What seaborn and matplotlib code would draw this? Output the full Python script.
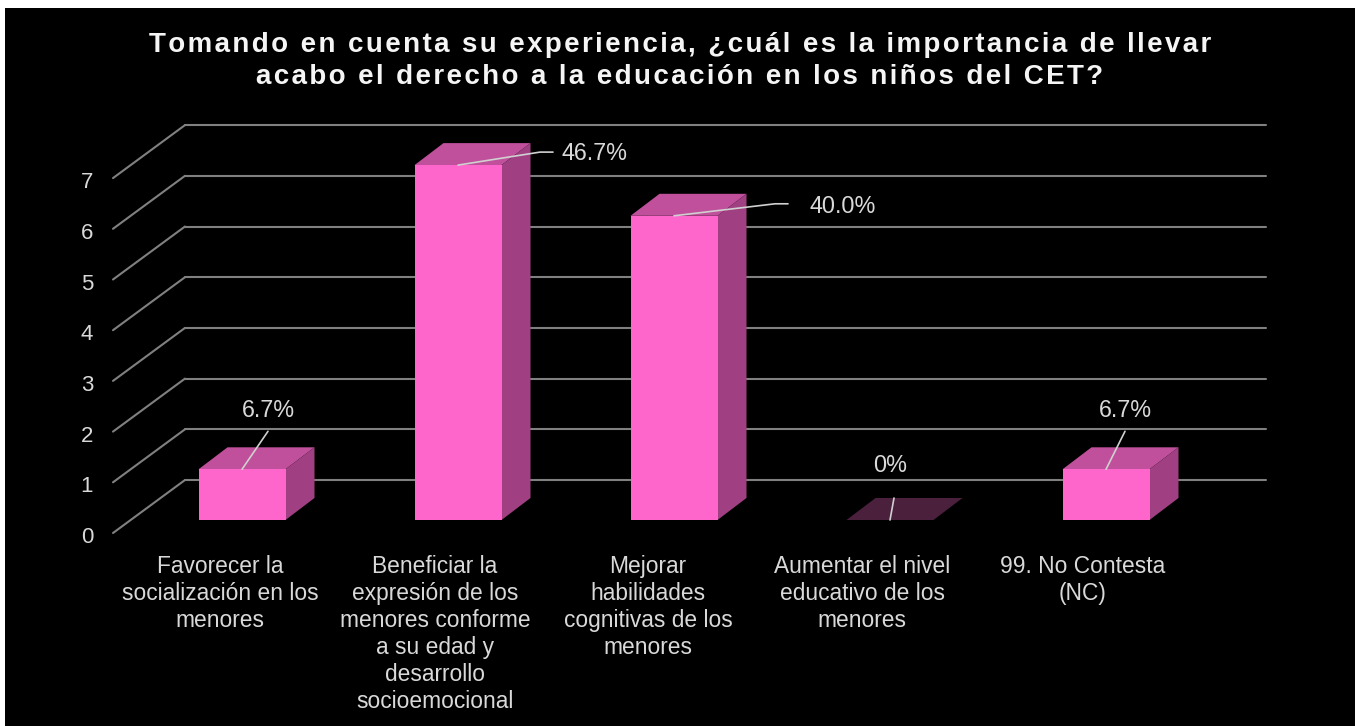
import seaborn as sns
import matplotlib
matplotlib.use("Agg")
import matplotlib.pyplot as plt
from matplotlib.patches import Polygon, Rectangle
from matplotlib.transforms import ScaledTranslation
import pandas as pd

categorias = ["Favorecer la\nsocialización en los\nmenores",
              "Beneficiar la\nexpresión de los\nmenores conforme\na su edad y\ndesarrollo\nsocioemocional",
              "Mejorar\nhabilidades\ncognitivas de los\nmenores",
              "Aumentar el nivel\neducativo de los\nmenores",
              "99. No Contesta\n(NC)"]
valores = [1, 7, 6, 0, 1]
porcentajes = ["6.7%", "46.7%", "40.0%", "0%", "6.7%"]
titulo = "Tomando en cuenta su experiencia, ¿cuál es la importancia de llevar\nacabo el derecho a la educación en los niños del CET?"

# pixel scale of the picture
W, H = 1360, 726
PX_X = 216.0    # px per category
PX_Y = 50.7     # px per unit
X0, Y0 = 242, 520   # px of first category, value 0
AX_L, AX_R, AX_T = 100, 1290, 100

ROSA = "#FF66CC"
TAPA = "#C0509B"
LADO = "#A04082"
GRIS = "#808080"
TEXTO = "#D9D9D9"

sns.set_theme(style="white", rc={"axes.facecolor": "none"})
plt.rcParams["font.family"] = ["Liberation Sans", "DejaVu Sans"]

fig = plt.figure(figsize=(W / 100, H / 100), dpi=100, facecolor="white")
fig.add_artist(Rectangle((5 / W, 0), (W - 10) / W, (H - 8) / H, transform=fig.transFigure,
                         facecolor="black", edgecolor="none", zorder=-5))
ax = fig.add_axes([AX_L / W, (H - Y0) / H, (AX_R - AX_L) / W, (Y0 - AX_T) / H])

df = pd.DataFrame({"categoria": categorias, "valor": valores})
sns.barplot(data=df, x="categoria", y="valor", color=ROSA, saturation=1, width=87 / PX_X,
            edgecolor="none", linewidth=0, ax=ax, zorder=3)
ax.set_xlim((AX_L - X0) / PX_X, (AX_R - X0) / PX_X)
ax.set_ylim(0, (Y0 - AX_T) / PX_Y)
ax.set_xlabel("")
ax.set_ylabel("")
sns.despine(ax=ax, left=True, bottom=True)
ax.set_yticks(range(8))


def dx(px):
    return px / PX_X


def dy(px):
    return px / PX_Y


# back wall and side wall lines
for v in range(8):
    ax.plot([(185 - X0) / PX_X, (1266 - X0) / PX_X], [v + dy(40)] * 2, color=GRIS, lw=1.5, zorder=1, clip_on=False)
    ax.plot([(113 - X0) / PX_X, (185 - X0) / PX_X], [v + dy(-13), v + dy(40)], color=GRIS, lw=1.5, zorder=1, clip_on=False)

# 3d faces of the bars
for bar in list(ax.patches):
    x, w, h = bar.get_x(), bar.get_width(), bar.get_height()
    ddx, ddy = dx(29), dy(22)
    tapa = TAPA if h > 0 else "#4A203D"
    ax.add_patch(Polygon([(x, h), (x + w, h), (x + w + ddx, h + ddy), (x + ddx, h + ddy)],
                         facecolor=tapa, edgecolor="none", zorder=2, clip_on=False))
    if h > 0:
        ax.add_patch(Polygon([(x + w, 0), (x + w + ddx, ddy), (x + w + ddx, h + ddy), (x + w, h)],
                             facecolor=LADO, edgecolor="none", zorder=2, clip_on=False))

# data labels with leader lines (offsets in px from the bar top)
texto_pos = [(26, 59, "center"), (104, 12, "left"), (135, 9, "left"), (0, 55, "center"), (19, 59, "center")]
guia = [[(26, 38)], [(82, 13), (95, 13)], [(101, 12), (114, 12)], [(4, 22)], [(19, 38)]]
for i, (val, etiqueta) in enumerate(zip(valores, porcentajes)):
    tx, ty, ha = texto_pos[i]
    ax.annotate(etiqueta, xy=(i, val), xytext=(tx, ty), textcoords="offset pixels",
                color=TEXTO, fontsize=16.8, ha=ha, va="center", annotation_clip=False, zorder=6)
    xs = [i] + [i + dx(p[0]) for p in guia[i]]
    ys = [val] + [val + dy(p[1]) for p in guia[i]]
    ax.plot(xs, ys, color="#D0D0D0", lw=1.2, zorder=5, clip_on=False)

ax.tick_params(axis="x", length=0, pad=25, labelsize=16.4, labelcolor=TEXTO)
ax.tick_params(axis="y", length=0, pad=5, labelsize=16, labelcolor=TEXTO)
# category labels sit to the left of their bars
ajuste = [-22, -23, -26, -28, -23]
for lab, aj in zip(ax.get_xticklabels(), ajuste):
    lab.set_linespacing(1.225)
    lab.set_va("top")
    lab.set_transform(lab.get_transform() + ScaledTranslation(aj / 100, 0, fig.dpi_scale_trans))
for lab in ax.get_yticklabels():
    lab.set_transform(lab.get_transform() + ScaledTranslation(0, -15 / 100, fig.dpi_scale_trans))

# title with letter spacing
espaciado = "\u200a".join(titulo).replace("\u200a\n\u200a", "\n")
fig.text(680 / W, 1 - 61 / H, espaciado, color="#F5F5F5", fontsize=20, fontweight="bold",
         ha="center", va="center", linespacing=1.33)

fig.savefig("out.png", dpi=100, facecolor=fig.get_facecolor())
